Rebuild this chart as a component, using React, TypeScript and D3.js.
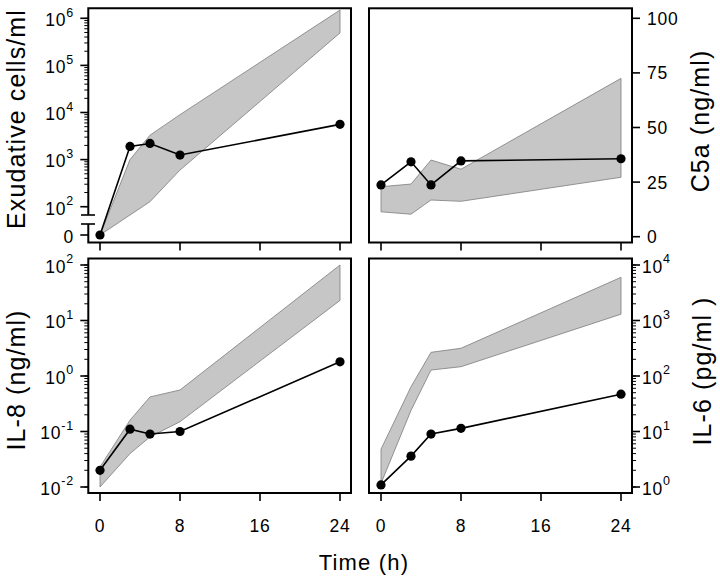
import React from "react";
import * as d3 from "d3";

// ---- data ----
const times = [0, 3, 5, 8, 24];
const xTickValues = [0, 8, 16, 24];

const cellsMean = [0, 1900, 2200, 1250, 5600];
const cellsUpperTimes = [0, 3, 5, 8, 24];
const cellsUpper = [0, 1000, 3300, 9000, 1500000];
const cellsLowerTimes = [0, 5, 8, 24];
const cellsLower = [0, 128, 600, 490000];
const cellsTicks = [1e2, 1e3, 1e4, 1e5, 1e6];
const cellsExp = ["2", "3", "4", "5", "6"];

const c5aMean = [23.7, 34.3, 23.7, 34.7, 35.7];
const c5aUpper = [22.9, 24.1, 35.1, 30.9, 72.5];
const c5aLower = [11.4, 10.3, 16.8, 16.2, 27.2];
const c5aTicks = [0, 25, 50, 75, 100];

const il8Mean = [0.02, 0.11, 0.09, 0.1, 1.8];
const il8Upper = [0.023, 0.16, 0.42, 0.56, 100];
const il8Lower = [0.01, 0.04, 0.08, 0.15, 23];
const il8Ticks = [1e-2, 1e-1, 1, 10, 100];
const il8Exp = ["-2", "-1", "0", "1", "2"];

const il6Mean = [1.09, 3.6, 9, 11.4, 47];
const il6Upper = [4.8, 64, 267, 316, 6000];
const il6Lower = [1.16, 24, 128, 147, 1300];
const il6Ticks = [1, 10, 100, 1000, 10000];
const il6Exp = ["0", "1", "2", "3", "4"];

// ---- layout ----
const FONT = "'Liberation Sans', Arial, Helvetica, sans-serif";
const LEFT = { x0: 88.3, x1: 351, r0: 100, r1: 340 };
const RIGHT = { x0: 369, x1: 632, r0: 381, r1: 621 };
const TOP = { y0: 8.3, y1: 242.5 };
const BOT = { y0: 258.5, y1: 493 };

const TICK_FS = 17.5;
const TICK_LS = 0.8;
const SUP_FS = 12.5;
const TITLE_FS = 25;
const TITLE_LS = 1.1;

const BAND_FILL = "#c6c6c6";
const BAND_STROKE = "#7c7c7c";

type YFn = (v: number) => number;

function bandPath(
  x: d3.ScaleLinear<number, number>,
  y: YFn,
  ut: number[],
  uv: number[],
  lt: number[],
  lv: number[]
) {
  const pts: [number, number][] = [];
  ut.forEach((t, i) => pts.push([x(t), y(uv[i])]));
  for (let i = lt.length - 1; i >= 0; i--) pts.push([x(lt[i]), y(lv[i])]);
  return d3.line()(pts) + "Z";
}

function Series({ x, y, vals }: { x: d3.ScaleLinear<number, number>; y: YFn; vals: number[] }) {
  const pts: [number, number][] = times.map((t, i) => [x(t), y(vals[i])]);
  return (
    <g>
      <path d={d3.line()(pts) || ""} fill="none" stroke="#000" strokeWidth={1.6} />
      {pts.map((p, i) => (
        <circle key={i} cx={p[0]} cy={p[1]} r={4.6} fill="#000" />
      ))}
    </g>
  );
}

function XTicks({ x, yb, labels }: { x: d3.ScaleLinear<number, number>; yb: number; labels: boolean }) {
  return (
    <g>
      {xTickValues.map((t) => (
        <g key={t}>
          <line x1={x(t)} x2={x(t)} y1={yb} y2={yb + 8} stroke="#000" strokeWidth={1.6} />
          {labels && (
            <text
              x={x(t)}
              y={yb + 38.5}
              textAnchor="middle"
              fontSize={TICK_FS}
              letterSpacing={TICK_LS}
              fontFamily={FONT}
            >
              {String(t)}
            </text>
          )}
        </g>
      ))}
    </g>
  );
}

function LogTicks({
  scale,
  side,
  xEdge,
  majors,
  exps,
  labelX,
}: {
  scale: d3.ScaleLogarithmic<number, number>;
  side: "left" | "right";
  xEdge: number;
  majors: number[];
  exps: string[];
  labelX: number;
}) {
  const dir = side === "left" ? -1 : 1;
  const minors = scale.ticks();
  return (
    <g>
      {minors.map((v, i) => (
        <line
          key={"m" + i}
          x1={xEdge}
          x2={xEdge + dir * 4}
          y1={scale(v)}
          y2={scale(v)}
          stroke="#000"
          strokeWidth={1}
        />
      ))}
      {majors.map((v, i) => (
        <g key={"M" + i}>
          <line
            x1={xEdge}
            x2={xEdge + dir * 8}
            y1={scale(v)}
            y2={scale(v)}
            stroke="#000"
            strokeWidth={1.6}
          />
          <text
            x={labelX}
            y={scale(v) + 7.8}
            textAnchor={side === "left" ? "end" : "start"}
            fontSize={TICK_FS}
            letterSpacing={TICK_LS}
            fontFamily={FONT}
          >
            <tspan>10</tspan>
            <tspan dy={-9.5} fontSize={SUP_FS}>
              {exps[i]}
            </tspan>
          </text>
        </g>
      ))}
    </g>
  );
}

export default function App() {
  const xL = d3.scaleLinear().domain([0, 24]).range([LEFT.r0, LEFT.r1]);
  const xR = d3.scaleLinear().domain([0, 24]).range([RIGHT.r0, RIGHT.r1]);

  // top-left: broken log axis with a zero
  const yCellsLog = d3.scaleLog().domain([1e2, 1e6]).range([206.7, 18.3]);
  const zeroY = 235;
  const yCells: YFn = (v) => (v <= 0 ? zeroY : yCellsLog(v));

  const yC5a = d3.scaleLinear().domain([0, 100]).range([236.7, 18.3]);
  const yIL8 = d3.scaleLog().domain([1e-2, 1e2]).range([487, 265]);
  const yIL6 = d3.scaleLog().domain([1, 1e4]).range([487, 265]);

  const brk1 = 215;
  const brk2 = 224;

  const frameTL = `M${LEFT.x0},${brk1} L${LEFT.x0},${TOP.y0} L${LEFT.x1},${TOP.y0} L${LEFT.x1},${TOP.y1} L${LEFT.x0},${TOP.y1} L${LEFT.x0},${brk2}`;

  return (
    <svg
      width={720}
      height={580}
      viewBox="0 0 720 580"
      style={{ position: "absolute", left: 0, top: 0, background: "#fff" }}
    >
      <rect x={0} y={0} width={720} height={580} fill="#fff" />

      {/* ---------- top-left: exudative cells ---------- */}
      <path
        d={bandPath(xL, yCells, cellsUpperTimes, cellsUpper, cellsLowerTimes, cellsLower)}
        fill={BAND_FILL}
        stroke={BAND_STROKE}
        strokeWidth={0.8}
      />
      <Series x={xL} y={yCells} vals={cellsMean} />
      <path d={frameTL} fill="none" stroke="#000" strokeWidth={2} />
      <line x1={81} x2={95} y1={brk1} y2={brk1} stroke="#000" strokeWidth={1.6} />
      <line x1={81} x2={95} y1={brk2} y2={brk2} stroke="#000" strokeWidth={1.6} />
      <LogTicks
        scale={yCellsLog}
        side="left"
        xEdge={LEFT.x0}
        majors={cellsTicks}
        exps={cellsExp}
        labelX={74}
      />
      <line x1={LEFT.x0} x2={LEFT.x0 - 8} y1={zeroY} y2={zeroY} stroke="#000" strokeWidth={1.6} />
      <text x={74} y={zeroY + 7.8} textAnchor="end" fontSize={TICK_FS} letterSpacing={TICK_LS} fontFamily={FONT}>
        0
      </text>
      <XTicks x={xL} yb={TOP.y1} labels={false} />
      <text
        transform={`translate(25,119) rotate(-90)`}
        textAnchor="middle"
        fontSize={TITLE_FS}
        letterSpacing={TITLE_LS}
        fontFamily={FONT}
      >
        Exudative cells/ml
      </text>

      {/* ---------- top-right: C5a ---------- */}
      <path
        d={bandPath(xR, yC5a, times, c5aUpper, times, c5aLower)}
        fill={BAND_FILL}
        stroke={BAND_STROKE}
        strokeWidth={0.8}
      />
      <Series x={xR} y={yC5a} vals={c5aMean} />
      <rect
        x={RIGHT.x0}
        y={TOP.y0}
        width={RIGHT.x1 - RIGHT.x0}
        height={TOP.y1 - TOP.y0}
        fill="none"
        stroke="#000"
        strokeWidth={2}
      />
      {c5aTicks.map((v) => (
        <g key={v}>
          <line x1={RIGHT.x1} x2={RIGHT.x1 + 8} y1={yC5a(v)} y2={yC5a(v)} stroke="#000" strokeWidth={1.6} />
          <text
            x={647}
            y={yC5a(v) + 6.5}
            fontSize={TICK_FS}
            letterSpacing={TICK_LS}
            fontFamily={FONT}
          >
            {String(v)}
          </text>
        </g>
      ))}
      <XTicks x={xR} yb={TOP.y1} labels={false} />
      <text
        transform={`translate(709,121) rotate(-90)`}
        textAnchor="middle"
        fontSize={TITLE_FS}
        letterSpacing={TITLE_LS}
        fontFamily={FONT}
      >
        C5a (ng/ml)
      </text>

      {/* ---------- bottom-left: IL-8 ---------- */}
      <path
        d={bandPath(xL, yIL8, times, il8Upper, times, il8Lower)}
        fill={BAND_FILL}
        stroke={BAND_STROKE}
        strokeWidth={0.8}
      />
      <Series x={xL} y={yIL8} vals={il8Mean} />
      <rect
        x={LEFT.x0}
        y={BOT.y0}
        width={LEFT.x1 - LEFT.x0}
        height={BOT.y1 - BOT.y0}
        fill="none"
        stroke="#000"
        strokeWidth={2}
      />
      <LogTicks scale={yIL8} side="left" xEdge={LEFT.x0} majors={il8Ticks} exps={il8Exp} labelX={74} />
      <XTicks x={xL} yb={BOT.y1} labels={true} />
      <text
        transform={`translate(25,380) rotate(-90)`}
        textAnchor="middle"
        fontSize={TITLE_FS}
        letterSpacing={TITLE_LS}
        fontFamily={FONT}
      >
        IL-8 (ng/ml)
      </text>

      {/* ---------- bottom-right: IL-6 ---------- */}
      <path
        d={bandPath(xR, yIL6, times, il6Upper, times, il6Lower)}
        fill={BAND_FILL}
        stroke={BAND_STROKE}
        strokeWidth={0.8}
      />
      <Series x={xR} y={yIL6} vals={il6Mean} />
      <rect
        x={RIGHT.x0}
        y={BOT.y0}
        width={RIGHT.x1 - RIGHT.x0}
        height={BOT.y1 - BOT.y0}
        fill="none"
        stroke="#000"
        strokeWidth={2}
      />
      <LogTicks scale={yIL6} side="right" xEdge={RIGHT.x1} majors={il6Ticks} exps={il6Exp} labelX={642} />
      <XTicks x={xR} yb={BOT.y1} labels={true} />
      <text
        transform={`translate(711,371) rotate(-90)`}
        textAnchor="middle"
        fontSize={TITLE_FS}
        letterSpacing={TITLE_LS}
        fontFamily={FONT}
      >
        IL-6 (pg/ml )
      </text>

      {/* ---------- shared x title ---------- */}
      <text x={364} y={570} textAnchor="middle" fontSize={22} letterSpacing={1.2} fontFamily={FONT}>
        Time (h)
      </text>
    </svg>
  );
}
